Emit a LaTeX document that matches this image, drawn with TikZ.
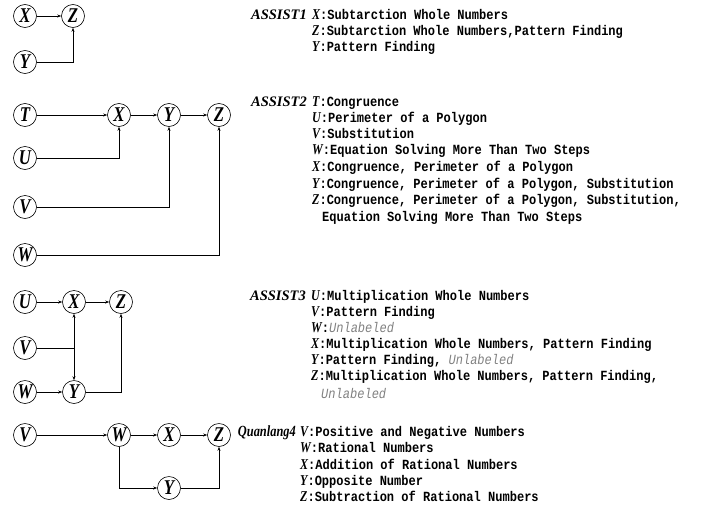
\documentclass[tikz,border=0pt]{standalone}
\usepackage{fontspec}
\usetikzlibrary{arrows.meta}
\setmainfont{Liberation Serif}
\newfontfamily\txtmono{Liberation Mono}[FakeStretch=0.86]
\newfontfamily\letfont{Liberation Serif}[FakeStretch=0.8]
\newfontfamily\labfont{Liberation Serif}
\newcommand{\Lt}[1]{{\letfont\fontsize{15}{15}\selectfont\bfseries\itshape #1}}
\newcommand{\Ul}{{\txtmono\mdseries\itshape\color{black!50}Unlabeled}}
\tikzset{
  vnode/.style={circle,draw,line width=0.6pt,minimum size=23pt,inner sep=0pt,
    font=\letfont\fontsize{21}{21}\selectfont\bfseries\itshape},
  edge/.style={-{Stealth[length=4pt,width=3pt]},line width=0.6pt},
  txt/.style={anchor=base west,inner sep=0pt,font=\txtmono\bfseries\fontsize{14}{14}\selectfont},
  dslab/.style={anchor=base east,inner sep=0pt,font=\labfont\fontsize{14.5}{15}\selectfont\bfseries\itshape},
  dslabq/.style={anchor=base east,inner sep=0pt,font=\letfont\fontsize{15.5}{15}\selectfont\bfseries\itshape}
}
\begin{document}
\begin{tikzpicture}[x=1pt,y=-1pt]
\useasboundingbox (0,0) rectangle (706,506);
% ASSIST1
\node[vnode] (a1X) at (25,16) {X};
\node[vnode] (a1Z) at (73,16) {Z};
\node[vnode] (a1Y) at (25,62) {Y};
\draw[edge] (a1X) -- (a1Z);
\draw[edge] (a1Y) -| (a1Z);
% ASSIST2
\node[vnode] (a2T) at (25,115) {T};
\node[vnode] (a2X) at (119,115) {X};
\node[vnode] (a2Y) at (169,115) {Y};
\node[vnode] (a2Z) at (219,115) {Z};
\node[vnode] (a2U) at (25,158) {U};
\node[vnode] (a2V) at (25,207) {V};
\node[vnode] (a2W) at (25,255) {W};
\draw[edge] (a2T) -- (a2X);
\draw[edge] (a2X) -- (a2Y);
\draw[edge] (a2Y) -- (a2Z);
\draw[edge] (a2U) -| (a2X);
\draw[edge] (a2V) -| (a2Y);
\draw[edge] (a2W) -| (a2Z);
% ASSIST3
\node[vnode] (a3U) at (25,302) {U};
\node[vnode] (a3X) at (74,302) {X};
\node[vnode] (a3Z) at (121,302) {Z};
\node[vnode] (a3V) at (25,348) {V};
\node[vnode] (a3W) at (25,392) {W};
\node[vnode] (a3Y) at (74,392) {Y};
\draw[edge] (a3U) -- (a3X);
\draw[edge] (a3X) -- (a3Z);
\draw[edge] (a3W) -- (a3Y);
\draw[edge] (a3V) -| (a3X);
\draw[edge] (a3V) -| (a3Y);
\draw[edge] (a3Y) -| (a3Z);
% Quanlang4
\node[vnode] (q4V) at (25,435) {V};
\node[vnode] (q4W) at (119,435) {W};
\node[vnode] (q4X) at (169,435) {X};
\node[vnode] (q4Z) at (219,435) {Z};
\node[vnode] (q4Y) at (169,488) {Y};
\draw[edge] (q4V) -- (q4W);
\draw[edge] (q4W) -- (q4X);
\draw[edge] (q4X) -- (q4Z);
\draw[edge] (q4W) |- (q4Y);
\draw[edge] (q4Y) -| (q4Z);
% Text ASSIST1
\node[dslab] (l1) at (307,19) {ASSIST1};
\node[txt] (t11) at (312,19) {\Lt{X}:Subtarction Whole Numbers};
\node[txt] (t12) at (312,35) {\Lt{Z}:Subtarction Whole Numbers,Pattern Finding};
\node[txt] (t13) at (312,51) {\Lt{Y}:Pattern Finding};
% Text ASSIST2
\node[dslab] (l2) at (307,106) {ASSIST2};
\node[txt] (t21) at (312,106) {\Lt{T}:Congruence};
\node[txt] (t22) at (312,122) {\Lt{U}:Perimeter of a Polygon};
\node[txt] (t23) at (312,138) {\Lt{V}:Substitution};
\node[txt] (t24) at (312,154) {\Lt{W}:Equation Solving More Than Two Steps};
\node[txt] (t25) at (312,171) {\Lt{X}:Congruence, Perimeter of a Polygon};
\node[txt] (t26) at (312,188) {\Lt{Y}:Congruence, Perimeter of a Polygon, Substitution};
\node[txt] (t27) at (312,204) {\Lt{Z}:Congruence, Perimeter of a Polygon, Substitution,};
\node[txt] (t28) at (322,221) {Equation Solving More Than Two Steps};
% Text ASSIST3
\node[dslab] (l3) at (306,300) {ASSIST3};
\node[txt] (t31) at (311,300) {\Lt{U}:Multiplication Whole Numbers};
\node[txt] (t32) at (311,316) {\Lt{V}:Pattern Finding};
\node[txt] (t33) at (311,332) {\Lt{W}:\Ul};
\node[txt] (t34) at (311,348) {\Lt{X}:Multiplication Whole Numbers, Pattern Finding};
\node[txt] (t35) at (311,364) {\Lt{Y}:Pattern Finding, \Ul};
\node[txt] (t36) at (311,380) {\Lt{Z}:Multiplication Whole Numbers, Pattern Finding,};
\node[txt] (t37) at (321,398) {\Ul};
% Text Quanlang4
\node[dslabq] (l4) at (296,436) {Quanlang4};
\node[txt] (t41) at (300,436) {\Lt{V}:Positive and Negative Numbers};
\node[txt] (t42) at (300,452) {\Lt{W}:Rational Numbers};
\node[txt] (t43) at (300,469) {\Lt{X}:Addition of Rational Numbers};
\node[txt] (t44) at (300,485) {\Lt{Y}:Opposite Number};
\node[txt] (t45) at (300,501) {\Lt{Z}:Subtraction of Rational Numbers};
\end{tikzpicture}
\end{document}
